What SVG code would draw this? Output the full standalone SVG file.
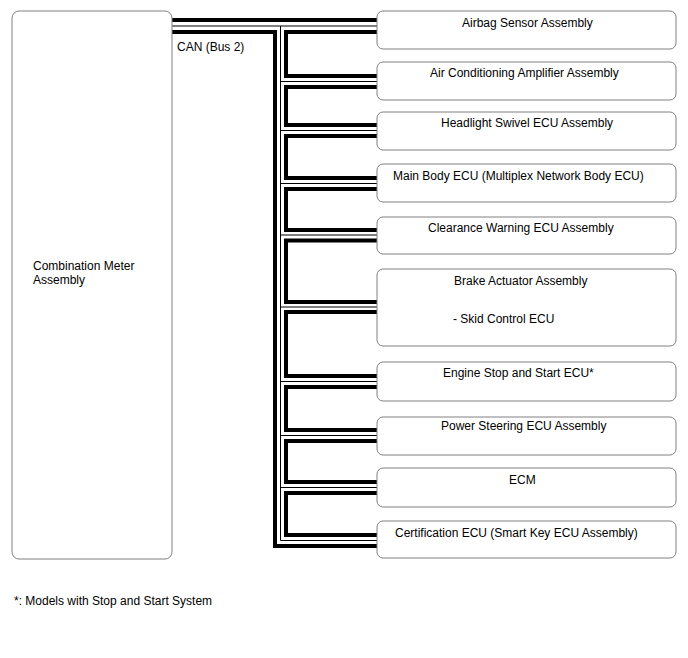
<svg xmlns="http://www.w3.org/2000/svg" width="688" height="658" viewBox="0 0 688 658">
<style>
.box{fill:#fff;stroke:#808080;stroke-width:1}
.t{font-family:"Liberation Sans",Arial,sans-serif;font-size:12px;fill:#000}
.thick{fill:none;stroke:#000;stroke-width:4;stroke-linejoin:miter}
.thin{fill:none;stroke:#000;stroke-width:1}
</style>
<rect width="688" height="658" fill="#fff"/>
<g id="connectors">
<path class="thick" d="M172,20H377"/>
<path class="thick" d="M172,32H275V546H377"/>
<path class="thin" d="M172,26H377M280.5,26V540.5H377"/>
<path class="thin" d="M280.5,81.5H377M280.5,130.5H377M280.5,183.5H377M280.5,235H377M280.5,307H377M280.5,381.5H377M280.5,435.5H377M280.5,487.5H377"/>
<path class="thick" d="M377,32H286V76H377"/>
<path class="thick" d="M377,87H286V125H377"/>
<path class="thick" d="M377,136H286V178H377"/>
<path class="thick" d="M377,189H286V230H377"/>
<path class="thick" d="M377,240.5H286V302H377"/>
<path class="thick" d="M377,312H286V376H377"/>
<path class="thick" d="M377,387H286V430H377"/>
<path class="thick" d="M377,441H286V482H377"/>
<path class="thick" d="M377,493H286V535H377"/>
<text class="t" x="177" y="51">CAN (Bus 2)</text>
</g>
<g id="meter">
<rect class="box" x="12" y="11" width="160" height="548" rx="7"/>
<text class="t" x="33" y="270">Combination Meter</text>
<text class="t" x="33" y="284">Assembly</text>
</g>
<g id="airbag">
<rect class="box" x="377" y="11" width="299" height="38" rx="6"/>
<text class="t" x="462" y="27">Airbag Sensor Assembly</text>
</g>
<g id="aircon">
<rect class="box" x="377" y="62" width="299" height="38" rx="6"/>
<text class="t" x="430" y="77">Air Conditioning Amplifier Assembly</text>
</g>
<g id="headlight">
<rect class="box" x="377" y="112" width="299" height="38" rx="6"/>
<text class="t" x="441" y="127">Headlight Swivel ECU Assembly</text>
</g>
<g id="mainbody">
<rect class="box" x="377" y="164" width="299" height="38" rx="6"/>
<text class="t" x="393" y="180">Main Body ECU (Multiplex Network Body ECU)</text>
</g>
<g id="clearance">
<rect class="box" x="377" y="217" width="299" height="37" rx="6"/>
<text class="t" x="428" y="232">Clearance Warning ECU Assembly</text>
</g>
<g id="brake">
<rect class="box" x="377" y="269" width="299" height="77" rx="6"/>
<text class="t" x="454" y="285">Brake Actuator Assembly</text>
<text class="t" x="453" y="323">- Skid Control ECU</text>
</g>
<g id="engine">
<rect class="box" x="377" y="362" width="299" height="39" rx="6"/>
<text class="t" x="443" y="377">Engine Stop and Start ECU*</text>
</g>
<g id="steering">
<rect class="box" x="377" y="417" width="299" height="38" rx="6"/>
<text class="t" x="441" y="430">Power Steering ECU Assembly</text>
</g>
<g id="ecm">
<rect class="box" x="377" y="468" width="299" height="39" rx="6"/>
<text class="t" x="509" y="484">ECM</text>
</g>
<g id="certification">
<rect class="box" x="377" y="521" width="299" height="37" rx="6"/>
<text class="t" x="395" y="537">Certification ECU (Smart Key ECU Assembly)</text>
</g>
<text class="t" x="14" y="605">*: Models with Stop and Start System</text>
</svg>
